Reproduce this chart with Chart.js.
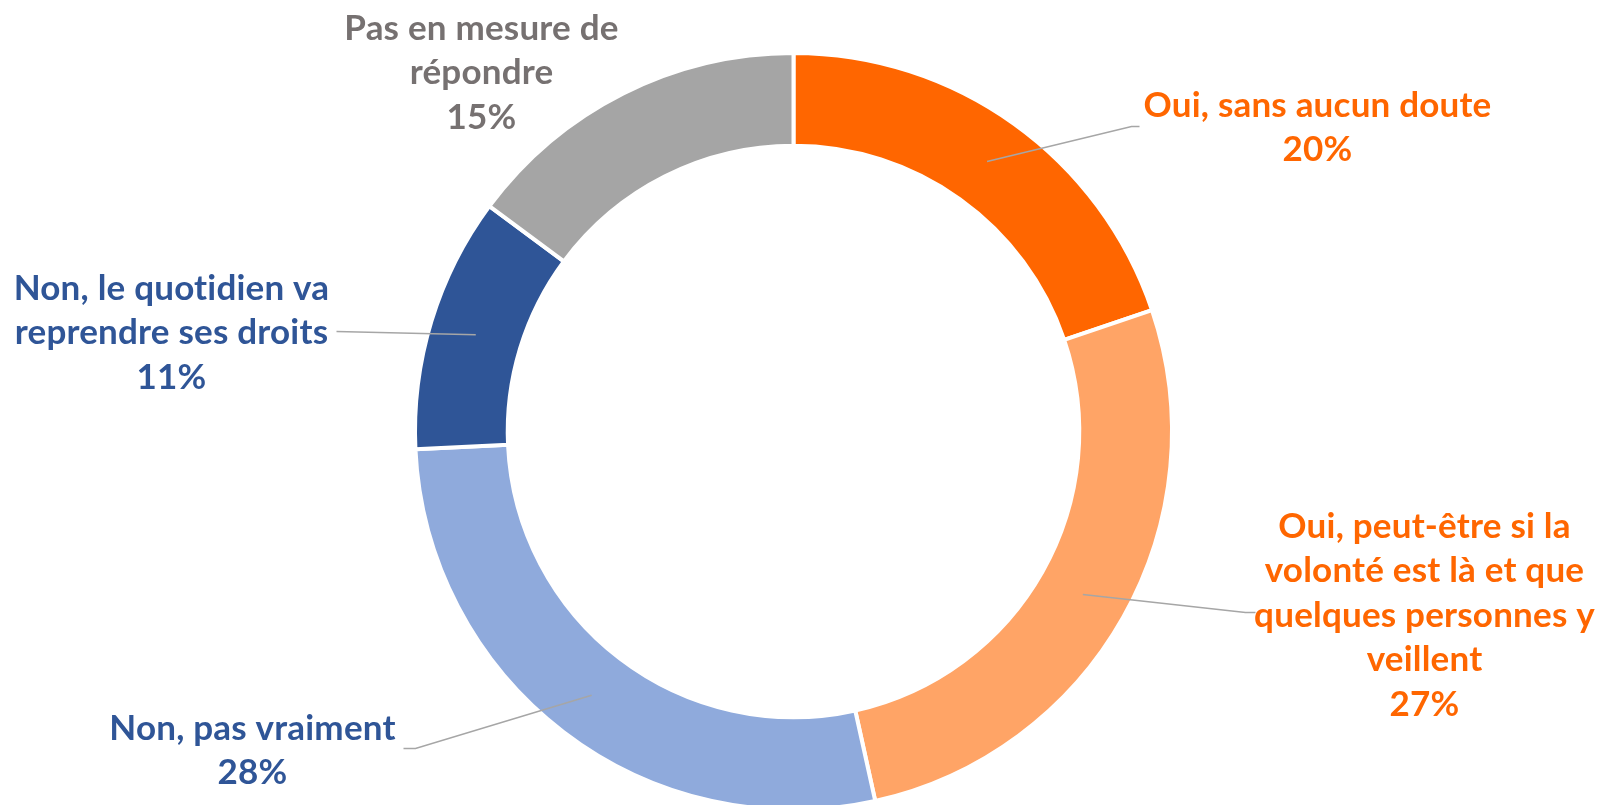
<!DOCTYPE html>
<html>
<head>
<meta charset="utf-8">
<script src="https://cdn.jsdelivr.net/npm/chart.js@4/dist/chart.umd.min.js"></script>
<style>
    html, body { margin: 0; padding: 0; background: #ffffff; overflow: hidden; }
    #wrap { width: 1598px; height: 805px; overflow: hidden; }
</style>
</head>
<body>
<div id="wrap">
    <canvas id="donutChart" width="1598" height="863"></canvas>
</div>
<script>

const categories = [
    ["Oui, sans aucun doute"],
    ["Oui, peut-être si la", "volonté est là et que", "quelques personnes y", "veillent"],
    ["Non, pas vraiment"],
    ["Non, le quotidien va", "reprendre ses droits"],
    ["Pas en mesure de", "répondre"]
];

const percentages = [20, 27, 28, 11, 15];

const sliceColors = ["#FF6600", "#FFA466", "#8FAADC", "#2F5597", "#A5A5A5"];
const textColors = ["#FF6600", "#FF6600", "#2F5597", "#2F5597", "#767171"];

// label placement, offsets from the chart centre
const labelLayout = [
    { dx: 524, dy: -326, elbow: [338, -305], end: [346, -305] },
    { dx: 631, dy: 95, elbow: [452, 181], end: [462, 181] },
    { dx: -541, dy: 297, elbow: [-378, 317], end: [-390, 317] },
    { dx: -622, dy: -143, elbow: [-457, -100], end: [-457, -100] },
    { dx: -312, dy: -403, elbow: null, end: null }
];

const lineHeight = 44.5;

const calloutPlugin = {
    id: "callouts",
    afterDatasetsDraw(chart) {
        const ctx = chart.ctx;
        const arcs = chart.getDatasetMeta(0).data;

        ctx.save();

        arcs.forEach((arc, i) => {
            const p = arc.getProps(["x", "y", "startAngle", "endAngle", "innerRadius", "outerRadius"], true);
            const pos = labelLayout[i];
            const cx = p.x;
            const cy = p.y;

            if (pos.end) {
                const mid = (p.startAngle + p.endAngle) / 2;
                const r = (p.innerRadius + p.outerRadius) / 2;
                ctx.beginPath();
                ctx.strokeStyle = "#A6A6A6";
                ctx.lineWidth = 1.5;
                ctx.moveTo(cx + Math.cos(mid) * r, cy + Math.sin(mid) * r);
                ctx.lineTo(cx + pos.elbow[0], cy + pos.elbow[1]);
                ctx.lineTo(cx + pos.end[0], cy + pos.end[1]);
                ctx.stroke();
            }

            const lines = categories[i].concat([percentages[i] + "%"]);
            ctx.fillStyle = textColors[i];
            ctx.font = "bold 35px Lato";
            ctx.letterSpacing = "0.2px"; // keeps "ti" from turning into a ligature
            ctx.textAlign = "center";
            ctx.textBaseline = "middle";
            lines.forEach((line, j) => {
                ctx.fillText(line, cx + pos.dx, cy + pos.dy + j * lineHeight);
            });
        });

        ctx.restore();
    }
};

new Chart(document.getElementById("donutChart"), {

    type: "doughnut",

    data: {
        labels: categories,
        datasets: [
            {
                data: percentages,
                backgroundColor: sliceColors,
                borderColor: "#ffffff",
                borderWidth: 4,
                hoverOffset: 0
            }
        ]
    },

    options: {
        responsive: false,
        animation: false,
        cutout: "75.5%",
        layout: {
            padding: { top: 51, bottom: 51, left: 0, right: 11 }
        },
        plugins: {
            legend: { display: false },
            tooltip: { enabled: false }
        }
    },

    plugins: [calloutPlugin]

});

</script>
</body>
</html>
